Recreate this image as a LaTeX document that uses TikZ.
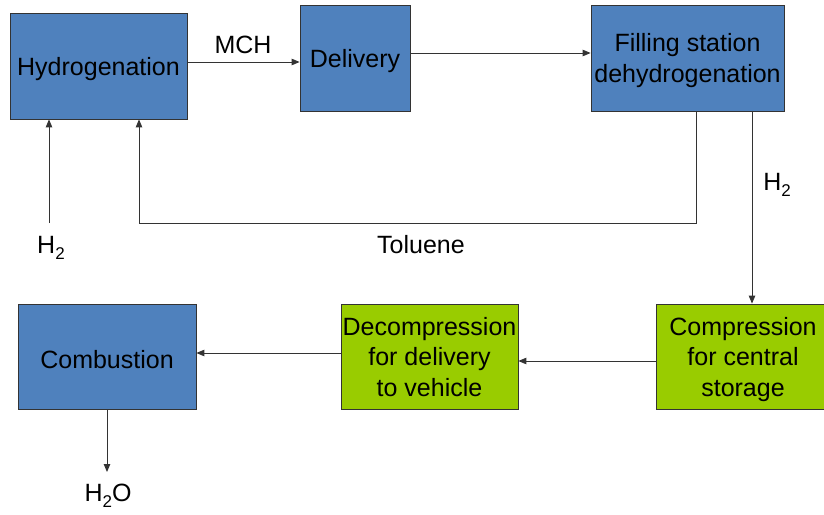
\documentclass[tikz,border=0pt]{standalone}
\usepackage{fontspec}
\setmainfont{Liberation Sans}
\usetikzlibrary{arrows.meta}
\definecolor{procblue}{HTML}{4F81BD}
\definecolor{procgreen}{HTML}{99CC00}
\definecolor{edgegray}{HTML}{333333}
\newcommand{\chemsub}[1]{\raisebox{-0.45ex}{\fontsize{17}{17}\selectfont #1}}
% centred block of lines, drawn lower by the first argument, size unchanged
\newcommand{\stacked}[2]{\raisebox{#1}[\height][\depth]{\begin{tabular}{@{}c@{}}#2\end{tabular}}}
\begin{document}
\begin{tikzpicture}[x=1pt,y=-1pt,
  every node/.style={font=\fontsize{25}{30.5}\selectfont, text=black},
  proc/.style={draw=edgegray, line width=0.8pt, rectangle, inner sep=0pt, align=center},
  oneline/.style={execute at begin node={\rule{0pt}{24pt}}},
  bluebox/.style={proc, fill=procblue},
  greenbox/.style={proc, fill=procgreen},
  flow/.style={draw=edgegray, line width=0.9pt, -{Triangle[length=8pt,width=6.5pt]}},
  tag/.style={inner sep=0pt}]
\useasboundingbox (0,0) rectangle (824,514);

% process boxes
\node[bluebox, oneline, minimum width=177pt, minimum height=106pt] (hyd) at (98.5,66) {Hydrogenation};
\node[bluebox, oneline, minimum width=110pt, minimum height=106pt] (del) at (355,58) {Delivery};
\node[bluebox, minimum width=193pt, minimum height=106pt,
  font=\fontsize{25}{31}\selectfont] (fil) at (687.5,58) {\stacked{-3pt}{Filling station\\dehydrogenation}};
\node[bluebox, oneline, minimum width=178pt, minimum height=105pt] (comb) at (107,356.5) {Combustion};
\node[greenbox, minimum width=177pt, minimum height=105pt] (dec) at (429.5,356.5) {\stacked{-3pt}{Decompression\\for delivery\\to vehicle}};
\node[greenbox, minimum width=174pt, minimum height=105pt] (comp) at (743,356.5) {\stacked{-3pt}{Compression\\for central\\storage}};

% free ends and bends
\coordinate (h2in) at (49,223);
\coordinate (tolbend) at (139,223);
\coordinate (h2out) at (107,472);

% connectors
\draw[flow] ([yshift=4pt]hyd.east) -- ([yshift=4pt]hyd.east -| del.west);
\draw[flow] ([yshift=5pt]del.east) -- ([yshift=5pt]del.east -| fil.west);
\draw[flow] ([xshift=8.5pt]fil.south) |- (tolbend) -- (tolbend |- hyd.south);
\draw[flow] (h2in) -- (h2in |- hyd.south);
\draw[flow] ([xshift=64.5pt]fil.south) -- ([xshift=64.5pt]fil.south |- comp.north);
\draw[flow] ([yshift=-4.5pt]comp.west) -- ([yshift=-4.5pt]comp.west -| dec.east);
\draw[flow] ([yshift=3.5pt]dec.west) -- ([yshift=3.5pt]dec.west -| comb.east);
\draw[flow] (comb.south) -- (h2out);

% stream labels
\node[tag] (mch) at (243,45) {MCH};
\node[tag] (tol) at (421,245) {Toluene};
\node[tag] (h2a) at (51,248) {H\chemsub{2}};
\node[tag] (h2b) at (777,185) {H\chemsub{2}};
\node[tag] (h2o) at (108,496) {H\chemsub{2}O};
\end{tikzpicture}
\end{document}
